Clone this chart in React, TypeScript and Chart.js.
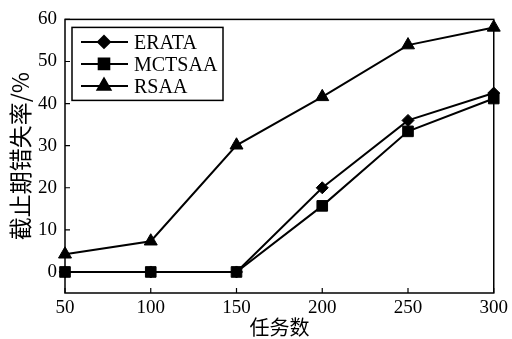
import React, { useEffect, useRef } from "react";
import { Chart, registerables } from "chart.js";
import { drawPoint } from "chart.js/helpers";

Chart.register(...registerables);

// Task counts on the x axis and deadline-miss rates (%) for each scheduler
const taskCounts = [50, 100, 150, 200, 250, 300];
const erataRates = [0, 0, 0, 20, 36, 42.5];
const mctsaaRates = [0, 0, 0, 15.7, 33.4, 41.2];
const rsaaRates = [4.2, 7.3, 30.1, 41.6, 53.9, 58.1];

const seriesNames = ["ERATA", "MCTSAA", "RSAA"];
const seriesMarkers = ["rectRot", "rect", "triangle"];
const seriesRadii = [6, 7.5, 7.5];

const xTitle = "任务数";
const yTitle = "截止期错失率/%";

const serif = "'Liberation Serif', 'Times New Roman', serif";
const cjk = "'Noto Sans CJK SC', 'Liberation Serif', serif";

const toPoints = (ys: number[]) => taskCounts.map((x, i) => ({ x, y: ys[i] }));

// Frame around the plot area plus inward-pointing ticks on the bottom and left edges
const framePlugin = {
  id: "frame",
  afterDatasetsDraw(chart: any) {
    const { ctx, chartArea: a, scales } = chart;
    ctx.save();
    ctx.strokeStyle = "#000";
    ctx.lineWidth = 1.5;
    ctx.strokeRect(a.left, a.top, a.right - a.left, a.bottom - a.top);
    ctx.lineWidth = 1.2;
    ctx.beginPath();
    scales.x.ticks.forEach((t: any) => {
      const px = scales.x.getPixelForValue(t.value);
      ctx.moveTo(px, a.bottom);
      ctx.lineTo(px, a.bottom - 5);
    });
    scales.y.ticks.forEach((t: any) => {
      const py = scales.y.getPixelForValue(t.value);
      ctx.moveTo(a.left, py);
      ctx.lineTo(a.left + 5, py);
    });
    ctx.stroke();
    ctx.restore();
  },
};

// Boxed legend with line-and-marker samples in the upper left corner
const legendPlugin = {
  id: "boxLegend",
  afterDraw(chart: any) {
    const { ctx, chartArea: a } = chart;
    const bx = a.left + 7;
    const by = a.top + 8;
    const bw = 151;
    const bh = 73;
    ctx.save();
    ctx.fillStyle = "#fff";
    ctx.fillRect(bx, by, bw, bh);
    ctx.strokeStyle = "#000";
    ctx.lineWidth = 1.5;
    ctx.strokeRect(bx, by, bw, bh);
    seriesNames.forEach((name, i) => {
      const cy = by + 14.5 + i * 22;
      ctx.strokeStyle = "#000";
      ctx.lineWidth = 2;
      ctx.beginPath();
      ctx.moveTo(bx + 9, cy);
      ctx.lineTo(bx + 56, cy);
      ctx.stroke();
      ctx.fillStyle = "#000";
      drawPoint(ctx, { pointStyle: seriesMarkers[i], radius: seriesRadii[i], rotation: 0, borderWidth: 1 } as any, bx + 32, cy);
      ctx.fillStyle = "#000";
      ctx.font = `20px ${serif}`;
      ctx.textBaseline = "alphabetic";
      ctx.textAlign = "left";
      ctx.fillText(name, bx + 62, cy + 7.5);
    });
    ctx.restore();
  },
};

export default function App() {
  const canvasRef = useRef<HTMLCanvasElement | null>(null);

  useEffect(() => {
    const canvas = canvasRef.current;
    if (!canvas) return;
    const allRates = [erataRates, mctsaaRates, rsaaRates];
    const chart = new Chart(canvas, {
      type: "line",
      data: {
        datasets: seriesNames.map((name, i) => ({
          label: name,
          data: toPoints(allRates[i]),
          borderColor: "#000",
          backgroundColor: "#000",
          borderWidth: 2,
          pointStyle: seriesMarkers[i] as any,
          pointRadius: seriesRadii[i],
          pointBackgroundColor: "#000",
          pointBorderColor: "#000",
          pointBorderWidth: 1,
          tension: 0,
          clip: false as any,
        })),
      },
      options: {
        responsive: false,
        animation: false,
        events: [],
        layout: { padding: { top: 17, right: 16, left: 0, bottom: 0 } },
        plugins: {
          legend: { display: false },
          tooltip: { enabled: false },
        },
        scales: {
          x: {
            type: "linear",
            min: 50,
            max: 300,
            grid: { display: false, drawTicks: false },
            border: { display: false },
            ticks: {
              stepSize: 50,
              color: "#000",
              padding: 4,
              maxRotation: 0,
              font: { family: serif, size: 19 },
            },
            title: {
              display: true,
              text: xTitle,
              color: "#000",
              padding: { top: 0, bottom: 0 },
              font: { family: cjk, size: 20 },
            },
            afterFit(scale: any) {
              scale.height = 46;
            },
          },
          y: {
            type: "linear",
            min: -5,
            max: 60,
            grid: { display: false, drawTicks: false },
            border: { display: false },
            afterBuildTicks(scale: any) {
              scale.ticks = scale.ticks.filter((t: any) => t.value >= 0);
            },
            ticks: {
              stepSize: 10,
              color: "#000",
              padding: 8,
              font: { family: serif, size: 19 },
            },
            title: {
              display: true,
              text: yTitle,
              color: "#000",
              padding: { top: 6, bottom: 0 },
              font: { family: cjk, size: 23 },
            },
            afterFit(scale: any) {
              scale.width = 65;
            },
          },
        },
      },
      plugins: [framePlugin, legendPlugin],
    });
    return () => chart.destroy();
  }, []);

  return (
    <div style={{ position: "absolute", left: 0, top: 0, width: 512, height: 339, background: "#fff" }}>
      <canvas ref={canvasRef} width={512} height={339} style={{ display: "block" }} />
    </div>
  );
}
